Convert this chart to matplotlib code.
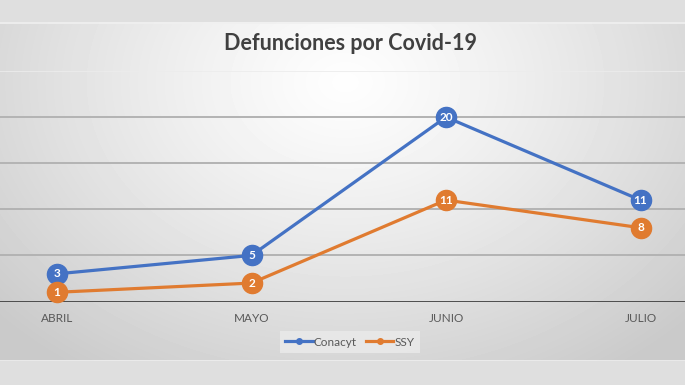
import numpy as np
import matplotlib.pyplot as plt
from matplotlib.lines import Line2D

# datos del grafico
meses = ["ABRIL", "MAYO", "JUNIO", "JULIO"]
conacyt = [3, 5, 20, 11]
ssy = [1, 2, 11, 8]

azul = "#4472c4"
naranja = "#e07b30"
gris_txt = "#595959"

plt.rcParams['font.family'] = ['Lato', 'DejaVu Sans']

W, H = 685, 385
fig = plt.figure(figsize=(W / 100, H / 100), dpi=100, facecolor="#dfdfdf")

# fondo con degradado radial (zona del grafico)
y0, y1 = 22, 361
bg = fig.add_axes([0, 1 - y1 / H, 1, (y1 - y0) / H])
xx, yy = np.meshgrid(np.arange(W), np.arange(y1 - y0))
d = np.sqrt(((xx - 345) / 440.0) ** 2 + ((yy - 60) / 330.0) ** 2)
val = np.clip(0.995 - 0.19 * d ** 1.2, 0.79, 1)
bg.imshow(val, cmap="gray", vmin=0, vmax=1, aspect="auto", interpolation="bilinear")
bg.axhline(0, color="#f0f0f0", lw=1.2)
bg.axhline(y1 - y0 - 1, color="#f0f0f0", lw=1.2)
bg.set_axis_off()

# area del trazado
top_px, base_px = 71, 301.5
ax = fig.add_axes([0, 1 - base_px / H, 1, (base_px - top_px) / H])
ax.patch.set_alpha(0)
x = np.arange(len(meses))
ax.set_xlim(-57 / 194.5, (W - 57) / 194.5)
ax.set_ylim(0, 25)

for v in [5, 10, 15, 20]:
    ax.axhline(v, color="#b3b3b3", lw=1.4, zorder=1)
ax.axhline(25, color="#ececec", lw=1.2, zorder=1)
ax.axhline(0, color="#404040", lw=2, zorder=2)

for serie, col in [(conacyt, azul), (ssy, naranja)]:
    ax.plot(x, serie, color=col, lw=2.3, marker="o", ms=14.5,
            markeredgecolor=col, clip_on=False, zorder=3)
    for xi, v in zip(x, serie):
        ax.text(xi, v, str(v), color="white", fontsize=8.5, fontweight="bold",
                ha="center", va="center", zorder=4)

for s in ax.spines.values():
    s.set_visible(False)
ax.set_yticks([])
ax.set_xticks(x)
ax.set_xticklabels(meses, color=gris_txt, fontsize=8.5)
ax.tick_params(axis="x", length=0, pad=8)

fig.text(0.511, 1 - 43 / H, "Defunciones por Covid-19", ha="center", va="center",
         fontsize=15.5, fontweight="bold", color="#404040")

handles = [Line2D([], [], color=azul, lw=2.3, marker="o", ms=4),
           Line2D([], [], color=naranja, lw=2.3, marker="o", ms=4)]
leg = fig.legend(handles, ["Conacyt", "SSY"], loc="center",
                 bbox_to_anchor=(350 / W, 1 - 342 / H), ncol=2, frameon=True,
                 fontsize=8.5, handlelength=2.3, handletextpad=0.1,
                 columnspacing=0.8, borderpad=0.5, fancybox=False)
leg.get_frame().set_facecolor("#ebebeb")
leg.get_frame().set_edgecolor("none")
for t in leg.get_texts():
    t.set_color(gris_txt)

fig.savefig("out.png", dpi=100)
